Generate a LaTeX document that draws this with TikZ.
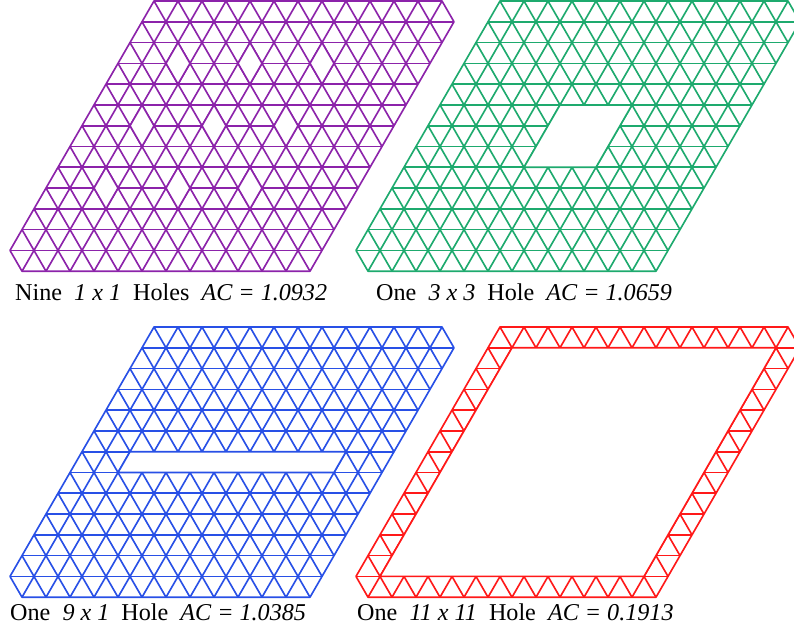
\documentclass[tikz,border=0pt]{standalone}
\usepackage{fontspec}
\setmainfont{Liberation Serif}
\usetikzlibrary{positioning}
\definecolor{latpurple}{RGB}{140,35,170}
\definecolor{latgreen}{RGB}{30,170,110}
\definecolor{latblue}{RGB}{40,80,230}
\definecolor{latred}{RGB}{255,25,25}
\tikzset{
  latcell/.style={x={(7.2mm,0mm)}, y={(-3.6mm,-6.2354mm)},
    line width=1.4pt, line join=round},
  hole/.style={fill=white},
  caption/.style={font=\fontsize{20.6}{24}\selectfont, inner sep=0pt, anchor=base west},
}
% 13 x 13 triangular patch, both sharp corners cut
\newcommand{\trilat}{%
  \draw (0,0) -- (12,0) -- (13,1) -- (13,13) -- (1,13) -- (0,12) -- cycle;
  \foreach \k in {1,...,12} {
    \draw (0,\k) -- (13,\k);
    \draw (\k,0) -- (\k,13);
  }
  \draw (0,0) -- (13,13);
  \foreach \k in {1,...,11} {
    \draw (\k,0) -- (13,13-\k);
    \draw (0,\k) -- (13-\k,13);
  }
}

\begin{document}
\begin{tikzpicture}[x=0.3mm, y=-0.3mm]
  \useasboundingbox (0,0) rectangle (794,632);
  \clip (0,0) rectangle (794,632);
  % nine holes
  \begin{scope}[shift={(154,1)}, latcell, color=latpurple]
    \trilat
    \foreach \i in {2,5,8}
      \foreach \j in {3,6,9}
        \filldraw[hole] (\i,\j-1) -- (\i,\j) -- (\i+1,\j+1) -- (\i+1,\j) -- cycle;
  \end{scope}
  % one 3 x 3 hole
  \begin{scope}[shift={(500,1)}, latcell, color=latgreen]
    \trilat
    \filldraw[hole] (5,5) -- (8,5) -- (8,8) -- (5,8) -- cycle;
  \end{scope}
  % one 9 x 1 hole
  \begin{scope}[shift={(154,327)}, latcell, color=latblue]
    \trilat
    \filldraw[hole] (2,6) -- (11,6) -- (11,7) -- (2,7) -- cycle;
  \end{scope}
  % one 11 x 11 hole
  \begin{scope}[shift={(500,327)}, latcell, color=latred]
    \trilat
    \filldraw[hole] (1,1) -- (12,1) -- (12,12) -- (1,12) -- cycle;
  \end{scope}
  \node[caption] (capnine) at (15,300) {Nine~~\textit{1 x 1}~~Holes~~\textit{AC = 1.0932}};
  \node[caption] (capthree) at (376,300) {One~~\textit{3 x 3}~~Hole~~\textit{AC = 1.0659}};
  \node[caption] (capslot) at (10,620) {One~~\textit{9 x 1}~~Hole~~\textit{AC = 1.0385}};
  \node[caption] (capring) at (357,620) {One~~\textit{11 x 11}~~Hole~~\textit{AC = 0.1913}};
\end{tikzpicture}
\end{document}
